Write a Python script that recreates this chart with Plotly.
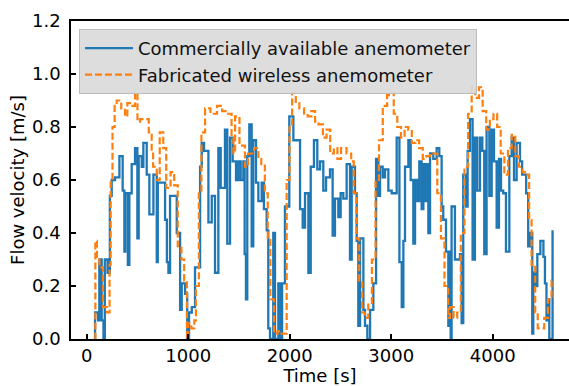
import plotly.graph_objects as go

# Commercially available anemometer (step trace)
com_time = [80, 82, 112, 124, 147, 165, 178, 205, 228, 246, 279, 322, 354, 371, 380, 405, 420,
            443, 476, 499, 512, 542, 558, 591, 617, 657, 690, 700, 772, 790, 805, 821, 887, 920,
            936, 969, 990, 1008, 1035, 1067, 1117, 1133, 1156, 1199, 1232, 1264, 1297, 1320, 1362,
            1385, 1412, 1438, 1471, 1494, 1517, 1543, 1556, 1569, 1582, 1602, 1625, 1641, 1668,
            1691, 1724, 1746, 1773, 1789, 1806, 1838, 1855, 1888, 1911, 1925, 1953, 1996, 2036,
            2102, 2128, 2151, 2184, 2207, 2239, 2272, 2299, 2331, 2358, 2397, 2423, 2446, 2479,
            2502, 2528, 2561, 2594, 2611, 2643, 2660, 2676, 2693, 2726, 2742, 2765, 2792, 2824,
            2851, 2874, 2890, 2916, 2939, 2972, 3005, 3054, 3081, 3104, 3120, 3136, 3169, 3192,
            3218, 3235, 3258, 3277, 3300, 3317, 3333, 3350, 3366, 3383, 3415, 3448, 3474, 3497,
            3513, 3540, 3563, 3575, 3586, 3595, 3628, 3678, 3694, 3710, 3737, 3753, 3776, 3802,
            3825, 3848, 3875, 3898, 3917, 3940, 3967, 3990, 4013, 4039, 4062, 4082, 4104, 4131,
            4164, 4187, 4210, 4236, 4269, 4290, 4330, 4350, 4370, 4390, 4400, 4420, 4440, 4470,
            4500, 4515, 4530, 4545, 4558, 4590]
com_velocity = [0.0, 0.10, 0.07, 0.30, 0.07, 0.0, 0.30, 0.25, 0.54, 0.60, 0.61, 0.69, 0.56, 0.33,
                0.55, 0.28, 0.55, 0.66, 0.72, 0.38, 0.69, 0.65, 0.74, 0.62, 0.47, 0.62, 0.29, 0.59,
                0.45, 0.29, 0.25, 0.54, 0.40, 0.11, 0.21, 0.17, 0.0, 0.10, 0.12, 0.27, 0.65, 0.74,
                0.71, 0.44, 0.54, 0.25, 0.72, 0.57, 0.79, 0.36, 0.76, 0.67, 0.60, 0.67, 0.60, 0.67,
                0.32, 0.15, 0.69, 0.81, 0.35, 0.75, 0.59, 0.52, 0.59, 0.49, 0.41, 0.04, 0.0, 0.40,
                0.0, 0.21, 0.0, 0.21, 0.50, 0.84, 0.75, 0.49, 0.42, 0.55, 0.25, 0.65, 0.75, 0.64,
                0.67, 0.56, 0.61, 0.64, 0.39, 0.53, 0.46, 0.55, 0.53, 0.66, 0.30, 0.65, 0.55, 0.37,
                0.05, 0.38, 0.11, 0.05, 0.0, 0.11, 0.21, 0.68, 0.54, 0.65, 0.61, 0.64, 0.56, 0.55,
                0.76, 0.29, 0.12, 0.37, 0.65, 0.75, 0.60, 0.36, 0.60, 0.52, 0.67, 0.49, 0.66, 0.52,
                0.66, 0.40, 0.70, 0.68, 0.72, 0.69, 0.50, 0.45, 0.33, 0.05, 0.33, 0.0, 0.50, 0.30,
                0.32, 0.06, 0.62, 0.50, 0.71, 0.83, 0.30, 0.76, 0.56, 0.76, 0.71, 0.32, 0.80, 0.54,
                0.79, 0.67, 0.42, 0.68, 0.56, 0.55, 0.33, 0.69, 0.76, 0.60, 0.74, 0.67, 0.62, 0.55,
                0.35, 0.40, 0.02, 0.25, 0.20, 0.32, 0.37, 0.31, 0.21, 0.07, 0.15, 0.0, 0.41]

# Fabricated wireless anemometer (dashed step trace)
fab_time = [80, 85, 100, 125, 160, 200, 225, 236, 254, 275, 295, 340, 377, 400, 427, 476, 500,
            525, 611, 640, 654, 690, 719, 754, 783, 826, 862, 897, 933, 960, 987, 1000, 1030,
            1060, 1076, 1105, 1130, 1166, 1219, 1284, 1334, 1380, 1427, 1445, 1462, 1505, 1559,
            1590, 1648, 1691, 1720, 1755, 1784, 1809, 1845, 1880, 1920, 1970, 1999, 2024, 2060,
            2095, 2142, 2177, 2213, 2250, 2284, 2327, 2363, 2399, 2435, 2470, 2506, 2560, 2606,
            2631, 2657, 2685, 2714, 2739, 2774, 2810, 2846, 2880, 2917, 2960, 2989, 3025, 3060,
            3096, 3132, 3168, 3203, 3239, 3275, 3311, 3346, 3382, 3454, 3490, 3525, 3561, 3579,
            3615, 3650, 3686, 3722, 3758, 3793, 3829, 3865, 3901, 3936, 3972, 4008, 4044, 4079,
            4115, 4151, 4187, 4223, 4258, 4294, 4330, 4359, 4383, 4419, 4444, 4473, 4508, 4544,
            4580, 4598]
fab_velocity = [0.0, 0.37, 0.31, 0.27, 0.12, 0.10, 0.28, 0.60, 0.80, 0.88, 0.90, 0.87, 0.84,
                0.89, 0.88, 0.93, 0.82, 0.83, 0.78, 0.70, 0.65, 0.60, 0.78, 0.72, 0.57, 0.63,
                0.58, 0.35, 0.30, 0.22, 0.0, 0.06, 0.04, 0.07, 0.20, 0.55, 0.78, 0.87, 0.85,
                0.88, 0.86, 0.85, 0.76, 0.70, 0.84, 0.73, 0.65, 0.70, 0.72, 0.68, 0.66, 0.55,
                0.38, 0.15, 0.02, 0.03, 0.02, 0.60, 0.80, 0.93, 0.89, 0.87, 0.85, 0.84, 0.86,
                0.82, 0.81, 0.76, 0.79, 0.70, 0.72, 0.68, 0.72, 0.70, 0.67, 0.55, 0.38, 0.22,
                0.10, 0.08, 0.13, 0.30, 0.60, 0.75, 0.88, 0.92, 0.93, 0.85, 0.80, 0.76, 0.80,
                0.79, 0.74, 0.75, 0.72, 0.68, 0.69, 0.70, 0.55, 0.38, 0.20, 0.08, 0.12, 0.08,
                0.10, 0.40, 0.65, 0.85, 0.95, 0.91, 0.95, 0.86, 0.79, 0.83, 0.85, 0.80, 0.70,
                0.62, 0.72, 0.77, 0.69, 0.65, 0.63, 0.62, 0.45, 0.28, 0.10, 0.04, 0.04, 0.08,
                0.15, 0.22, 0.22]

x_ticks = [0, 1000, 2000, 3000, 4000]
y_ticks = [0.0, 0.2, 0.4, 0.6, 0.8, 1.0, 1.2]
y_tick_labels = ["0.0", "0.2", "0.4", "0.6", "0.8", "1.0", "1.2"]

FONT = "DejaVu Sans, sans-serif"

fig = go.Figure()
fig.add_trace(go.Scatter(
    x=com_time, y=com_velocity, mode="lines", line_shape="hv",
    name="Commercially available anemometer", legendgroup="a",
    line=dict(color="#1f77b4", width=2.3)))
fig.add_trace(go.Scatter(
    x=fab_time, y=fab_velocity, mode="lines", line_shape="hv",
    name="Fabricated wireless anemometer", legendgroup="b",
    line=dict(color="#ff7f0e", width=2.2, dash="7px,3px")))

fig.update_layout(
    width=569, height=386,
    margin=dict(l=71, r=0, t=21, b=47, autoexpand=False),
    paper_bgcolor="white", plot_bgcolor="white",
    font=dict(family=FONT, size=18, color="black"),
    showlegend=True,
    legend=dict(x=0.016, y=0.975, xanchor="left", yanchor="top",
                bgcolor="rgba(218,218,218,0.92)", bordercolor="#bcbcbc", borderwidth=1,
                font=dict(family=FONT, size=18, color="#111"),
                itemwidth=48, tracegroupgap=0, traceorder="grouped"),
    xaxis=dict(range=[-155, 4752], tickvals=x_ticks, ticks="inside", ticklen=5, tickwidth=1.5,
               tickcolor="black", showline=True, linecolor="black", linewidth=1.5, mirror=True,
               showgrid=False, zeroline=False, automargin=False,
               title=dict(text="Time [s]", font=dict(size=18))),
    yaxis=dict(range=[0, 1.2], tickvals=y_ticks, ticktext=y_tick_labels, ticks="inside",
               ticklen=5, tickwidth=1.5, tickcolor="black", showline=True, linecolor="black",
               linewidth=1.5, mirror=False, showgrid=False, zeroline=False, automargin=True,
               ticklabelstandoff=5,
               title=dict(text="Flow velocity [m/s]", standoff=3, font=dict(size=18))),
)

fig.write_html("out.html", config={"displayModeBar": False},
               post_script="document.body.style.margin='0';document.body.style.overflow='hidden';")
